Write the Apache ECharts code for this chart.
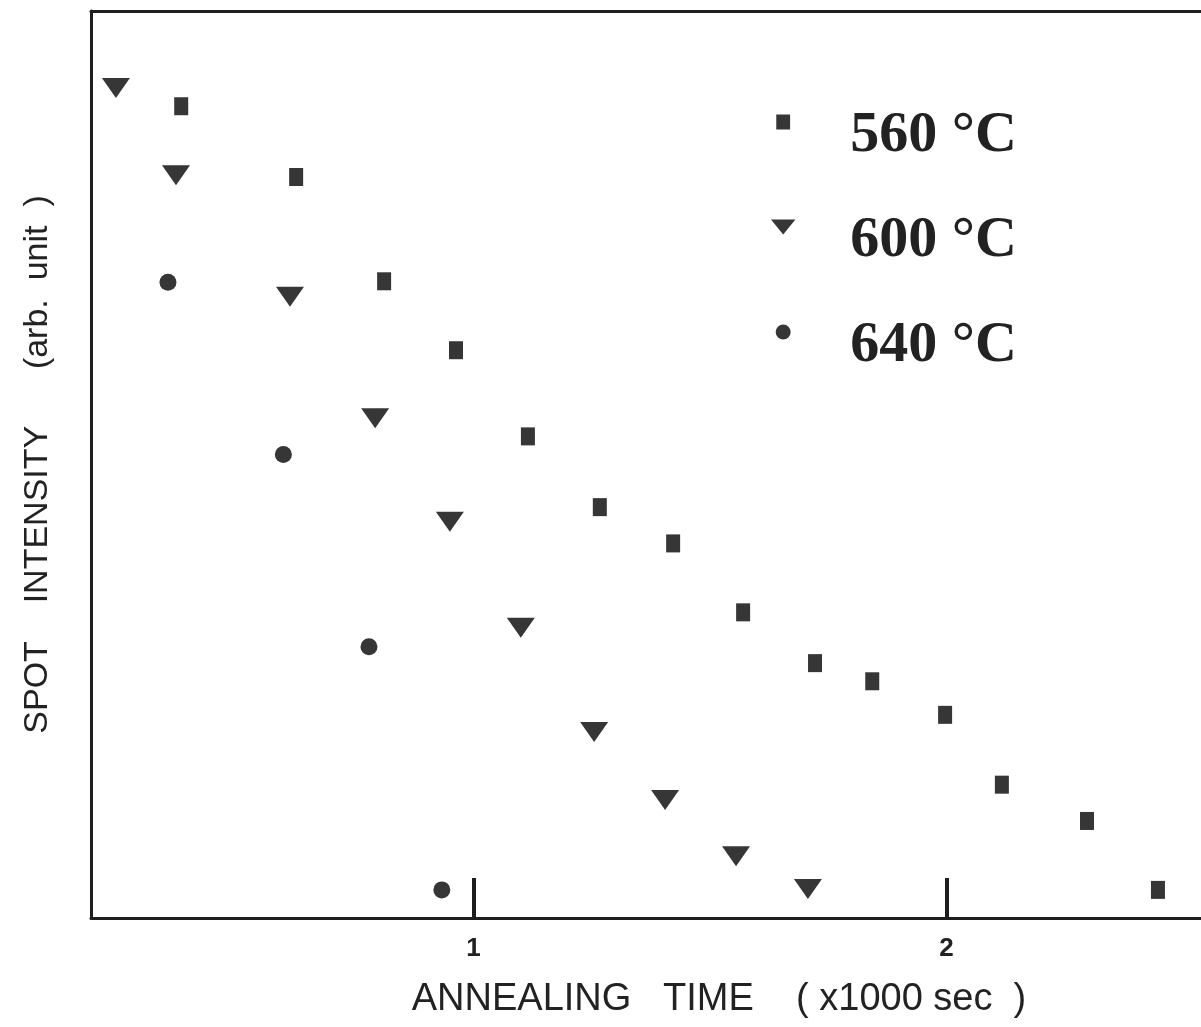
<!DOCTYPE html>
<html>
<head>
<meta charset="utf-8">
<script src="https://cdn.jsdelivr.net/npm/echarts@6/dist/echarts.min.js"></script>
<style>
html,body{margin:0;padding:0;background:#fff;}
#chart{width:1201px;height:1027px;}
</style>
</head>
<body>
<div id="chart"></div>
<script>
// Annealing time (x1000 sec) and spot intensity (arb. unit)
const seriesNames = ['560 °C', '600 °C', '640 °C'];
const t560 = [0.382, 0.625, 0.811, 0.963, 1.115, 1.267, 1.422, 1.570, 1.722, 1.843, 1.997, 2.117, 2.297, 2.447];
const i560 = [8.95, 8.17, 7.02, 6.26, 5.31, 4.53, 4.13, 3.37, 2.81, 2.61, 2.24, 1.47, 1.07, 0.31];
const t600 = [0.244, 0.371, 0.612, 0.792, 0.950, 1.100, 1.255, 1.405, 1.555, 1.707];
const i600 = [9.15, 8.19, 6.85, 5.51, 4.37, 3.20, 2.05, 1.30, 0.68, 0.32];
const t640 = [0.354, 0.598, 0.779, 0.933];
const i640 = [7.01, 5.11, 2.99, 0.31];
const xTickValues = [1, 2];
const xTickLabels = ['1', '2'];
const xName = 'ANNEALING   TIME    ( x1000 sec  )';
const yName = 'SPOT    INTENSITY      (arb.  unit  )';

const pairs = (xs, ys) => xs.map((x, k) => [x, ys[k]]);
const markColor = '#363636';
const axisColor = '#1e1e1e';
const xMin = 0.1913, xMax = 2.538;

const chart = echarts.init(document.getElementById('chart'), null, {renderer: 'canvas'});
chart.setOption({
  animation: false,
  backgroundColor: '#ffffff',
  grid: {left: 91, top: 11, right: 0, bottom: 109, containLabel: false},
  legend: {
    orient: 'vertical',
    left: 771,
    top: 79,
    padding: 0,
    itemWidth: 124,
    itemHeight: 15,
    itemGap: 19,
    symbolKeepAspect: true,
    selectedMode: false,
    data: [
      {name: seriesNames[0], icon: 'path://M0,0H12V13H0Z'},
      {name: seriesNames[1], icon: 'path://M0,0L26,0L13,16Z'},
      {name: seriesNames[2], icon: 'circle'}
    ],
    formatter: name => '\n' + name,
    textStyle: {
      fontFamily: 'Liberation Serif, serif',
      fontWeight: 'bold',
      fontSize: 58,
      lineHeight: 28,
      color: '#222'
    }
  },
  xAxis: [{
    type: 'value',
    min: xMin,
    max: xMax,
    position: 'bottom',
    name: xName,
    nameLocation: 'middle',
    nameGap: 63,
    nameTextStyle: {
      fontFamily: 'Liberation Sans, Arial, sans-serif',
      fontSize: 38,
      color: '#222',
      padding: [0, 0, 0, 146]
    },
    axisLine: {show: true, onZero: false, lineStyle: {color: axisColor, width: 3}},
    axisTick: {show: true, inside: true, length: 40, customValues: xTickValues, lineStyle: {color: axisColor, width: 4}},
    axisLabel: {
      show: true,
      customValues: xTickValues,
      formatter: v => xTickLabels[xTickValues.indexOf(Math.round(v))] || '',
      margin: 18,
      fontFamily: 'Liberation Sans, sans-serif',
      fontWeight: 'bold',
      fontSize: 26,
      color: '#222'
    },
    splitLine: {show: false}
  }, {
    type: 'value',
    min: xMin,
    max: xMax,
    position: 'top',
    axisLine: {show: true, onZero: false, lineStyle: {color: axisColor, width: 3}},
    axisTick: {show: false},
    axisLabel: {show: false},
    splitLine: {show: false}
  }],
  yAxis: {
    type: 'value',
    min: 0,
    max: 10,
    name: yName,
    nameLocation: 'middle',
    nameRotate: 90,
    nameGap: 36,
    nameTextStyle: {
      fontFamily: 'Liberation Sans, sans-serif',
      fontSize: 34,
      color: '#222'
    },
    axisLine: {show: true, onZero: false, lineStyle: {color: axisColor, width: 3}},
    axisTick: {show: false},
    axisLabel: {show: false},
    splitLine: {show: false}
  },
  series: [
    {name: seriesNames[0], type: 'scatter', symbol: 'rect', symbolSize: [14, 18],
     itemStyle: {color: markColor, opacity: 1}, data: pairs(t560, i560)},
    {name: seriesNames[1], type: 'scatter', symbol: 'path://M0,0L20,0L10,14Z', symbolSize: [28, 20],
     itemStyle: {color: markColor, opacity: 1}, data: pairs(t600, i600)},
    {name: seriesNames[2], type: 'scatter', symbol: 'circle', symbolSize: 17,
     itemStyle: {color: markColor, opacity: 1}, data: pairs(t640, i640)}
  ]
});
</script>
</body>
</html>
